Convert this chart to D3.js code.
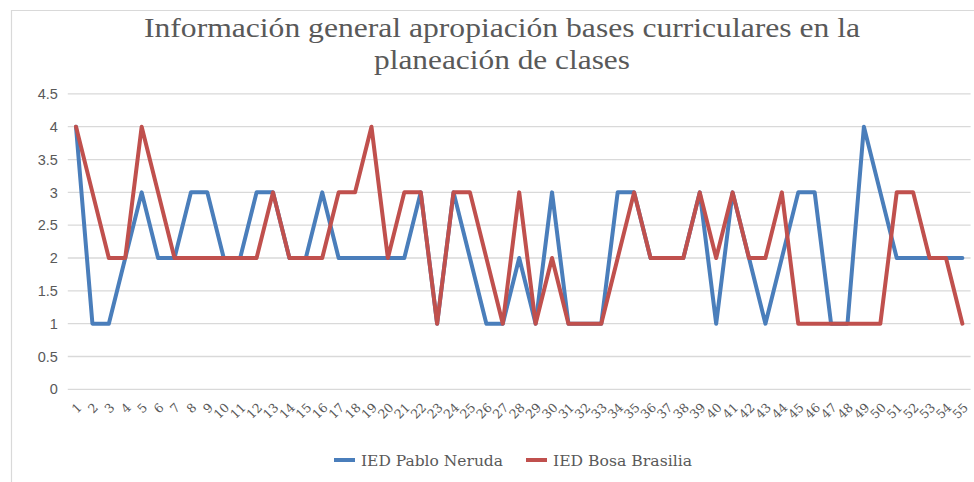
<!DOCTYPE html>
<html>
<head>
<meta charset="utf-8">
<script src="https://cdn.jsdelivr.net/npm/d3@7"></script>
<style>
  html, body { margin: 0; padding: 0; background: #ffffff; }
  svg { display: block; }
</style>
</head>
<body>
<svg id="chart" width="974" height="482"></svg>
<script>
// ---- data ----
const categories = d3.range(1, 56).map(String);
const pabloNeruda = [4,1,1,2,3,2,2,3,3,2, 2,3,3,2,2,3,2,2,2,2, 2,3,1,3,2,1,1,2,1,3, 1,1,1,3,3,2,2,2,3,1, 3,2,1,2,3,3,1,1,4,3, 2,2,2,2,2];
const bosaBrasilia = [4,3,2,2,4,3,2,2,2,2, 2,2,3,2,2,2,3,3,4,2, 3,3,1,3,3,2,1,3,1,2, 1,1,1,2,3,2,2,2,3,2, 3,2,2,3,1,1,1,1,1,1, 3,3,2,2,1];
const yTicks = [0, 0.5, 1, 1.5, 2, 2.5, 3, 3.5, 4, 4.5];
const seriesNames = ["IED Pablo Neruda", "IED Bosa Brasilia"];
const seriesColors = ["#4a7ebb", "#c0504d"];
const titleLines = ["Información general apropiación bases curriculares en la", "planeación de clases"];

const series = [
  { name: seriesNames[0], values: pabloNeruda, color: seriesColors[0] },
  { name: seriesNames[1], values: bosaBrasilia, color: seriesColors[1] }
];

const svg = d3.select("#chart");
const W = 974, H = 482;

// chart frame
svg.append("rect").attr("x", 0).attr("y", 0).attr("width", W).attr("height", H).attr("fill", "#fff");
svg.append("path")
  .attr("d", "M11.5,482 V10.5 H974")
  .attr("fill", "none").attr("stroke", "#d9d9d9").attr("stroke-width", 1.2);

const plot = { left: 67.8, right: 970.6, top: 93.9, bottom: 389.3 };

const x = d3.scalePoint().domain(categories).range([plot.left, plot.right]).padding(0.5);
const y = d3.scaleLinear().domain([0, 4.5]).range([plot.bottom, plot.top]);

// title
const title = svg.append("g");
const titleWidths = [716, 256];
titleLines.forEach((t, i) => {
  title.append("text")
    .attr("x", 502).attr("y", 37 + i * 32)
    .attr("text-anchor", "middle")
    .attr("font-family", "'Liberation Serif', 'DejaVu Serif', serif")
    .attr("font-size", 28)
    .attr("fill", "#595959")
    .attr("textLength", titleWidths[i])
    .attr("lengthAdjust", "spacingAndGlyphs")
    .text(t);
});

// gridlines
svg.append("g")
  .selectAll("line").data(yTicks).join("line")
  .attr("x1", plot.left).attr("x2", plot.right)
  .attr("y1", d => y(d)).attr("y2", d => y(d))
  .attr("stroke", "#d9d9d9").attr("stroke-width", 1.3);

// y axis
const yAxis = svg.append("g")
  .attr("transform", `translate(${plot.left - 10},0)`)
  .call(d3.axisLeft(y).tickValues(yTicks).tickSize(0).tickPadding(0).tickFormat(d => String(d)));
yAxis.select(".domain").remove();
yAxis.selectAll("text")
  .attr("font-family", "'Liberation Sans', Arial, sans-serif")
  .attr("font-size", 14.5)
  .attr("fill", "#595959");

// x axis
const xAxis = svg.append("g")
  .attr("transform", `translate(0,${plot.bottom})`)
  .call(d3.axisBottom(x).tickSize(0).tickPadding(0));
xAxis.select(".domain").remove();
xAxis.selectAll("text")
  .attr("font-family", "'DejaVu Serif', serif")
  .attr("font-size", 12.5)
  .attr("fill", "#595959")
  .attr("text-anchor", "end")
  .attr("dy", null)
  .attr("y", null)
  .attr("transform", "translate(6,19) rotate(-45)");

// lines
const line = d3.line()
  .x((d, i) => x(categories[i]))
  .y(d => y(d));

svg.append("g")
  .selectAll("path").data(series).join("path")
  .attr("d", d => line(d.values))
  .attr("fill", "none")
  .attr("stroke", d => d.color)
  .attr("stroke-width", 4)
  .attr("stroke-linejoin", "round")
  .attr("stroke-linecap", "round");

// legend
const legendItems = [
  { name: seriesNames[0], color: seriesColors[0], x: 334, w: 142 },
  { name: seriesNames[1], color: seriesColors[1], x: 526, w: 139 }
];
const legend = svg.append("g");
legendItems.forEach(it => {
  legend.append("line")
    .attr("x1", it.x).attr("x2", it.x + 21)
    .attr("y1", 460).attr("y2", 460)
    .attr("stroke", it.color).attr("stroke-width", 4);
  legend.append("text")
    .attr("x", it.x + 27).attr("y", 466)
    .attr("font-family", "'DejaVu Serif', serif")
    .attr("font-size", 15.5)
    .attr("fill", "#595959")
    .attr("textLength", it.w)
    .attr("lengthAdjust", "spacingAndGlyphs")
    .text(it.name);
});
</script>
</body>
</html>
